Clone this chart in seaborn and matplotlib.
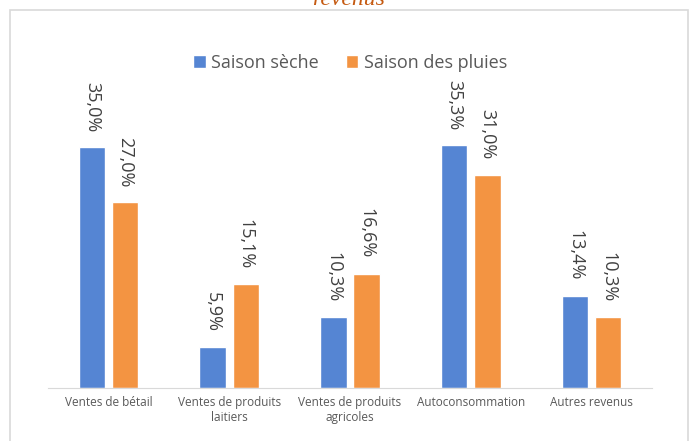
import pandas as pd
import seaborn as sns
import matplotlib.pyplot as plt
from matplotlib.patches import Rectangle

# Sources de revenus
categories = ["Ventes de bétail", "Ventes de produits\nlaitiers", "Ventes de produits\nagricoles",
              "Autoconsommation", "Autres revenus"]
saison_seche = [35.0, 5.9, 10.3, 35.3, 13.4]
saison_pluies = [27.0, 15.1, 16.6, 31.0, 10.3]
series = ["Saison sèche", "Saison des pluies"]

data = pd.DataFrame({
    "Source": categories * 2,
    "Saison": [series[0]] * 5 + [series[1]] * 5,
    "Part": saison_seche + saison_pluies,
})

sns.set_style("white")
plt.rcParams["font.family"] = ["Open Sans", "DejaVu Sans"]

fig = plt.figure(figsize=(6.91, 4.41), dpi=100)
ax = fig.add_axes([48 / 691, 53 / 441, (652 - 48) / 691, (388 - 75) / 441])

sns.barplot(data=data, x="Source", y="Part", hue="Saison",
            palette=["#5585D3", "#F39442"], width=0.55, gap=0.2,
            saturation=1, ax=ax)

for cont in ax.containers:
    ax.bar_label(cont, labels=[f"{v:.1f}%".replace(".", ",") for v in cont.datavalues],
                 rotation=270, padding=11, fontsize=13, color="#404040")

ax.set_ylim(0, 45.5)
ax.set_xlim(-0.5, 4.5)
ax.set_xlabel("")
ax.set_ylabel("")
ax.set_yticks([])
ax.tick_params(axis="x", length=0, labelsize=8.5, labelcolor="#595959", pad=6)
for s in ["left", "right", "top"]:
    ax.spines[s].set_visible(False)
ax.spines["bottom"].set_color("#d9d9d9")

ax.legend(loc="upper center", bbox_to_anchor=(0.5, 1.12), ncol=2, frameon=False,
          fontsize=13, handlelength=0.7, handleheight=0.7, handletextpad=0.3,
          columnspacing=1.5, labelcolor="#595959")

# cadre et titre coupé
fig.patches.append(Rectangle((10 / 691, -0.05), 678 / 691, 1.05 - 10 / 441,
                             transform=fig.transFigure, fill=False,
                             edgecolor="#d9d9d9", linewidth=1.2))
fig.text(348 / 691, 1 - 5 / 441, "revenus", ha="center", va="baseline",
         fontsize=17, style="italic", family="Liberation Serif", color="#C55A11")

fig.savefig("out.png", dpi=100)
